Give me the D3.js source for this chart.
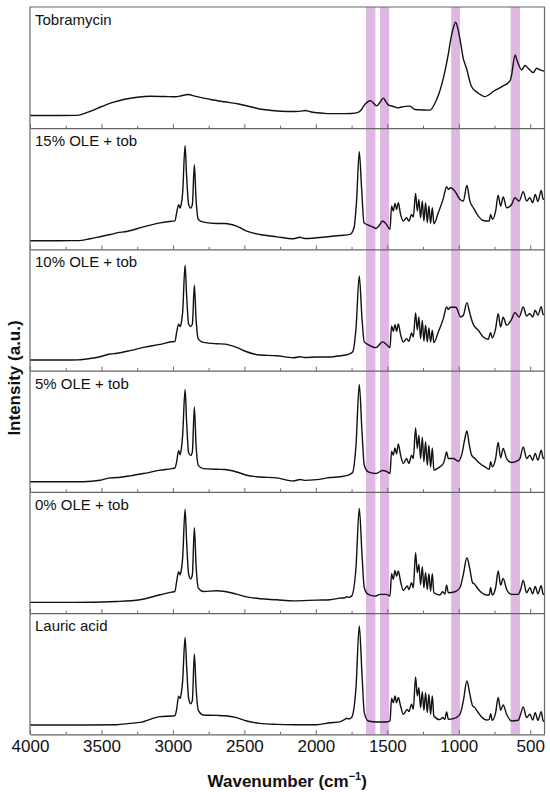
<!DOCTYPE html>
<html>
<head>
<meta charset="utf-8">
<script src="https://cdn.jsdelivr.net/npm/d3@7"></script>
<style>
  body { margin: 0; background: #fff; }
  text { font-family: "Liberation Sans", Arial, sans-serif; }
</style>
</head>
<body>
<div id="ftirChart"></div>
<script>
// panel labels, top to bottom
const sampleNames = ["Tobramycin", "15% OLE + tob", "10% OLE + tob", "5% OLE + tob", "0% OLE + tob", "Lauric acid"];

// [wavenumber (cm-1), intensity (% of panel height)]
const tobramycin = [[4000,10.5],[3800,10.5],[3670,10.6],[3600,13],[3498,17.9],[3420,21.3],[3338,23.9],[3250,25.6],[3154,26.4],[3060,26.2],[2982,25.9],[2940,26.8],[2896,27.8],[2840,26.3],[2736,23.7],[2640,21.8],[2540,20],[2450,17.5],[2368,15.4],[2245,14],[2150,13.8],[2090,14.3],[2073,14.6],[2040,13.6],[1950,12.4],[1901,12],[1800,12],[1749,12.1],[1705,13],[1680,15.5],[1668,17.9],[1640,21.5],[1617,22.6],[1595,20.5],[1575,18.4],[1550,21.5],[1528,24.8],[1510,22],[1493,19.3],[1470,18.3],[1446,17.6],[1425,16.8],[1400,17.5],[1370,18],[1342,18.2],[1320,16.5],[1307,15.4],[1250,15],[1202,14.9],[1167,20.6],[1140,28],[1120,35.8],[1095,48],[1074,60.5],[1050,77],[1035,84],[1022,87.5],[1008,83],[992,74],[969,57.8],[946,49.5],[911,34.4],[864,28.9],[817,26.1],[790,27.5],[759,30.3],[689,34.9],[642,39],[630,44],[623,49.5],[605,60.5],[595,57],[581,52.3],[560,48.1],[545,50.5],[535,51.7],[515,49.5],[502,48.1],[479,45.9],[465,48],[455,49.5],[432,48.1],[409,47.3],[400,47]];

const ole15 = [[4000,7.2],[3800,7.2],[3662,7.3],[3580,8.8],[3510,10.5],[3440,12.3],[3393,13.7],[3324,14.8],[3207,18.6],[3090,21.9],[3009,23.3],[2986,23.6],[2974,30.1],[2960,37],[2950,34.2],[2941,37.8],[2932,46.6],[2915,85.5],[2904,60.3],[2890,37],[2876,34.2],[2864,37],[2850,69.9],[2838,41.1],[2822,24.7],[2787,22.5],[2694,21.4],[2636,21.4],[2554,19.2],[2484,15.1],[2391,12.3],[2274,10.4],[2157,8.8],[2111,10],[2080,9],[1994,9.6],[1901,10.7],[1831,11.5],[1761,12.4],[1733,17.9],[1715,39.9],[1696,80.6],[1680,50.9],[1663,22],[1633,20.1],[1600,18.5],[1579,17.3],[1555,20],[1533,23.4],[1505,20.6],[1481,16.5],[1470,35.8],[1458,31.6],[1446,38],[1435,33],[1423,38.5],[1407,28.9],[1388,23.4],[1365,26.1],[1349,23.4],[1330,28.9],[1318,26.7],[1302,46.2],[1290,31.6],[1279,41.3],[1267,26.1],[1255,39.9],[1244,23.4],[1232,38.5],[1220,22],[1209,35.8],[1197,21.5],[1185,34.4],[1174,21.2],[1143,30.3],[1108,42.1],[1085,51.7],[1073,49.5],[1057,50.9],[1027,48.1],[992,41.3],[968,39.9],[943,52.8],[922,39.9],[898,34.4],[863,27.5],[829,23.9],[787,23.4],[777,28.9],[765,24.8],[742,31.6],[724,44.8],[707,35.8],[689,43.2],[665,34.4],[630,37.1],[607,42.6],[577,39.9],[549,47.6],[525,39.9],[502,42.6],[483,38.5],[465,45.4],[446,39.5],[423,48.7],[409,41.3],[400,42]];

const ole10 = [[4000,8.8],[3800,8.8],[3662,8.9],[3580,10],[3510,11.5],[3440,13.7],[3393,14.3],[3300,16.5],[3207,19.2],[3090,21.7],[3009,23.8],[2986,24],[2974,31.5],[2960,38.4],[2950,36.4],[2941,39.7],[2932,48],[2915,86.9],[2904,61.7],[2890,38.4],[2876,36.4],[2864,38.4],[2850,70.4],[2838,42.5],[2822,26],[2787,23.3],[2694,22.2],[2636,21.9],[2554,19.2],[2484,15.6],[2391,12.9],[2274,12.3],[2157,10.7],[2111,11.5],[2080,10.8],[1994,11.2],[1901,11.3],[1831,12.3],[1773,13.5],[1743,15.4],[1719,34.7],[1696,78.1],[1677,42.9],[1661,23.7],[1633,21.5],[1579,19],[1533,23.7],[1500,20.9],[1481,19],[1470,36.9],[1458,32.5],[1446,38],[1435,32.5],[1423,38.5],[1407,29.7],[1388,23.7],[1365,26.4],[1349,24.2],[1330,31.1],[1318,27.8],[1302,47.6],[1290,33.5],[1279,44.3],[1267,26.4],[1255,41.5],[1244,24.5],[1232,37.4],[1220,23.7],[1209,35.2],[1197,23.7],[1185,33.3],[1174,23.1],[1143,31.9],[1108,42.9],[1085,52.5],[1073,50.6],[1057,52.3],[1020,52.3],[987,44.3],[968,45.7],[943,56.1],[922,47],[898,38],[863,33.3],[829,27.8],[794,25.9],[777,31.4],[765,27],[742,34.7],[724,47],[707,36],[689,44],[665,37.4],[630,42.4],[607,47.9],[577,44.3],[549,52.5],[525,45.1],[502,47],[483,44.3],[465,49.8],[446,45.7],[423,52.8],[409,46.2],[400,46.5]];

const ole05 = [[4000,8.3],[3800,8.3],[3627,8.4],[3510,9.6],[3440,11.5],[3393,11.8],[3300,13.2],[3207,15.1],[3090,17.9],[3009,19.2],[2986,19.7],[2974,24.7],[2960,34.2],[2950,30.7],[2941,35.6],[2932,46.6],[2915,84.4],[2904,57.5],[2890,32.3],[2876,30.1],[2864,32.9],[2850,69.9],[2838,38.4],[2822,21.9],[2787,19.2],[2694,18.6],[2636,18.4],[2554,16.4],[2484,13.7],[2391,12.3],[2274,11.5],[2157,9],[2111,10.2],[2080,9.5],[1994,10.1],[1901,11.8],[1831,12.5],[1773,13.8],[1743,16],[1719,38.5],[1696,88.6],[1677,49.5],[1661,22],[1633,16.5],[1579,15.1],[1533,17.6],[1500,16.5],[1481,15.1],[1470,33.6],[1458,30.3],[1446,36.3],[1435,31.4],[1423,39.6],[1407,30.3],[1388,23.4],[1365,27.5],[1349,23.4],[1330,30.3],[1318,27.5],[1302,52.8],[1290,35.8],[1279,46.8],[1267,27.5],[1255,45.1],[1244,24.8],[1232,41.3],[1220,22],[1209,38.5],[1197,20.6],[1185,36.3],[1174,17.9],[1143,19.8],[1108,23.4],[1097,27.5],[1085,33],[1073,27.5],[1038,27.5],[1003,25.3],[980,30.3],[957,44],[943,50.3],[926,38.5],[910,30.3],[887,27.5],[852,23.4],[817,20.6],[787,18.7],[777,24.8],[765,20.6],[742,27.5],[724,40.7],[707,28.1],[689,35.8],[665,27.5],[630,24.2],[595,25.3],[572,27.5],[549,37.1],[525,27.5],[502,30.3],[483,26.1],[465,31.6],[446,26.1],[423,34.4],[409,27.5],[400,28]];

const ole00 = [[4000,8.8],[3700,8.8],[3393,9.6],[3230,11],[3090,15.1],[3009,17.3],[2986,17.8],[2974,26],[2960,34.2],[2950,31.5],[2941,35.6],[2932,45.2],[2915,85.8],[2904,58.9],[2890,32.1],[2876,28.2],[2864,31.5],[2850,70.4],[2838,39.7],[2822,20.6],[2787,17.8],[2694,18.4],[2636,17.8],[2554,15.6],[2484,13.4],[2391,11.8],[2274,11],[2157,10.1],[1994,10.7],[1901,11],[1831,12.3],[1796,12.7],[1785,13.5],[1770,13],[1750,14],[1719,37.4],[1696,86.4],[1677,48.4],[1661,20.9],[1633,15.4],[1586,14],[1551,15.4],[1505,15.4],[1481,14],[1470,32.5],[1458,27.8],[1446,35.2],[1435,30.3],[1423,34.7],[1407,26.1],[1388,18.7],[1360,22.3],[1349,19.5],[1330,25],[1318,20.9],[1302,49.8],[1290,33.5],[1279,40.2],[1267,23.4],[1255,38.2],[1244,20.9],[1232,33.3],[1220,19.5],[1209,32.5],[1197,18.2],[1185,32.5],[1174,16.8],[1132,14.9],[1113,17.6],[1097,15.7],[1085,23.1],[1073,16.8],[1027,17.6],[992,20.9],[968,31.9],[943,45.7],[922,36],[903,25],[887,23.7],[875,21.5],[840,16.8],[805,14.9],[787,14.9],[777,20.9],[765,14.9],[742,20.9],[724,34.7],[707,23.1],[689,28.6],[665,19.5],[630,15.4],[584,15.4],[567,19.5],[549,27],[525,16.8],[502,20.9],[483,16],[465,22],[446,16],[423,22.5],[409,15.4],[400,15.5]];

const lauricAcid = [[4000,7.7],[3600,7.7],[3393,7.9],[3300,9],[3230,9.8],[3090,14.6],[3009,15.1],[2986,15.3],[2974,20.6],[2960,31.5],[2950,29.6],[2941,34.2],[2932,43.8],[2915,80],[2904,56.2],[2890,29.6],[2876,25.2],[2864,28],[2850,66.3],[2838,38.4],[2822,19.7],[2787,15.9],[2694,15.6],[2636,15.3],[2554,13.7],[2484,11],[2391,9],[2274,8.2],[2157,7.9],[1994,7.9],[1901,9.5],[1831,10.3],[1796,12.4],[1785,13.2],[1770,12.6],[1750,13.8],[1719,38.5],[1696,89.4],[1677,49.5],[1661,17.9],[1633,11],[1575,10.2],[1505,10.2],[1481,11],[1470,29.7],[1458,26.1],[1446,31.6],[1435,26.1],[1423,30.3],[1407,23.4],[1388,16.5],[1360,20.6],[1349,18.7],[1330,24.8],[1318,20.6],[1302,47.3],[1290,31.6],[1279,38.5],[1267,22],[1255,35.2],[1244,19.8],[1232,34.4],[1220,17.9],[1209,33],[1197,16.5],[1185,31.6],[1174,15.1],[1132,12.1],[1113,13.8],[1097,12.4],[1085,18.4],[1073,12.4],[1038,12.9],[992,16.5],[968,27.5],[943,44],[922,33],[903,23.4],[887,22],[875,19.8],[840,14.3],[805,11.8],[787,12.1],[777,17],[765,11.5],[742,17.9],[724,30.3],[707,19.8],[689,24.2],[665,16.5],[630,11],[584,11.6],[567,16.5],[549,22.6],[525,13.8],[502,16.5],[483,11.8],[465,17.9],[446,11.5],[423,18.7],[409,11],[400,11]];

// highlighted bands [from, to] in cm-1
const bands = [[1649, 1583], [1551, 1487], [1053, 991], [637, 572]];

const majorTicks = [4000, 3500, 3000, 2500, 2000, 1500, 1000, 500];
const minorTicks = [3750, 3250, 2750, 2250, 1750, 1250, 750];

function init() {
    var w = 550;
    var h = 792;
    var margin = { top: 7, right: 5.5, bottom: 57.7, left: 30 };
    var frameColor = "#666";

    const spectra = [tobramycin, ole15, ole10, ole05, ole00, lauricAcid];

    const svg = d3.select("#ftirChart")
        .append("svg")
        .attr("width", w)
        .attr("height", h);

    const xScale = d3.scaleLinear()
        .domain([4000, 400])
        .range([margin.left, w - margin.right]);

    const plotBottom = h - margin.bottom;
    const panelH = (plotBottom - margin.top) / spectra.length;

    // purple bands behind everything
    svg.selectAll("rect.band")
        .data(bands)
        .enter()
        .append("rect")
        .attr("class", "band")
        .attr("x", d => xScale(d[0]))
        .attr("width", d => xScale(d[1]) - xScale(d[0]))
        .attr("y", margin.top)
        .attr("height", plotBottom - margin.top)
        .attr("fill", "#dfb7e3");

    const line = d3.line()
        .curve(d3.curveMonotoneX);

    spectra.forEach((data, i) => {
        const top = margin.top + i * panelH;
        const bottom = top + panelH;

        const yScale = d3.scaleLinear()
            .domain([0, 100])
            .range([bottom, top]);

        line.x(d => xScale(d[0])).y(d => yScale(d[1]));

        const isLast = i === spectra.length - 1;

        // minor ticks
        svg.append("g")
            .attr("transform", `translate(0, ${bottom})`)
            .call(d3.axisBottom(xScale)
                .tickValues(minorTicks)
                .tickSizeInner(-2.5)
                .tickSizeOuter(0)
                .tickFormat(""))
            .call(g => g.select(".domain").remove())
            .selectAll("line")
            .attr("stroke", frameColor);

        // major ticks (labels only on the bottom panel)
        const axis = svg.append("g")
            .attr("transform", `translate(0, ${bottom})`)
            .call(d3.axisBottom(xScale)
                .tickValues(majorTicks)
                .tickSizeInner(-4)
                .tickSizeOuter(0)
                .tickPadding(6)
                .tickFormat(isLast ? d3.format("d") : ""));

        axis.select(".domain").attr("stroke", frameColor).attr("stroke-width", 1.2);
        axis.selectAll(".tick line").attr("stroke", frameColor);
        axis.selectAll(".tick text")
            .attr("fill", "#111")
            .style("font-size", "17px")
            .style("font-family", "'Liberation Sans', Arial, sans-serif");

        svg.append("path")
            .datum(data)
            .attr("d", line)
            .attr("fill", "none")
            .attr("stroke", "#111")
            .attr("stroke-width", 1.4)
            .attr("stroke-linejoin", "round");

        svg.append("text")
            .attr("x", margin.left + 5)
            .attr("y", top + 18)
            .attr("font-size", 15)
            .attr("fill", "#111")
            .text(sampleNames[i]);
    });

    // frame: top edge and both sides
    svg.append("path")
        .attr("d", `M${xScale(4000)},${plotBottom}V${margin.top}H${xScale(400)}V${plotBottom}`)
        .attr("fill", "none")
        .attr("stroke", frameColor)
        .attr("stroke-width", 1.2);

    // axis titles
    const xTitle = svg.append("text")
        .attr("x", (xScale(4000) + xScale(400)) / 2)
        .attr("y", 787)
        .attr("text-anchor", "middle")
        .attr("font-size", 17)
        .attr("font-weight", "bold")
        .attr("fill", "#111")
        .text("Wavenumber (cm");
    xTitle.append("tspan")
        .attr("font-size", 11)
        .attr("dy", -7)
        .text("\u22121");
    xTitle.append("tspan")
        .attr("dy", 7)
        .text(")");

    svg.append("text")
        .attr("transform", `translate(20, 378) rotate(-90)`)
        .attr("text-anchor", "middle")
        .attr("font-size", 17)
        .attr("font-weight", "bold")
        .attr("fill", "#111")
        .text("Intensity (a.u.)");
}

window.onload = init;
</script>
</body>
</html>
